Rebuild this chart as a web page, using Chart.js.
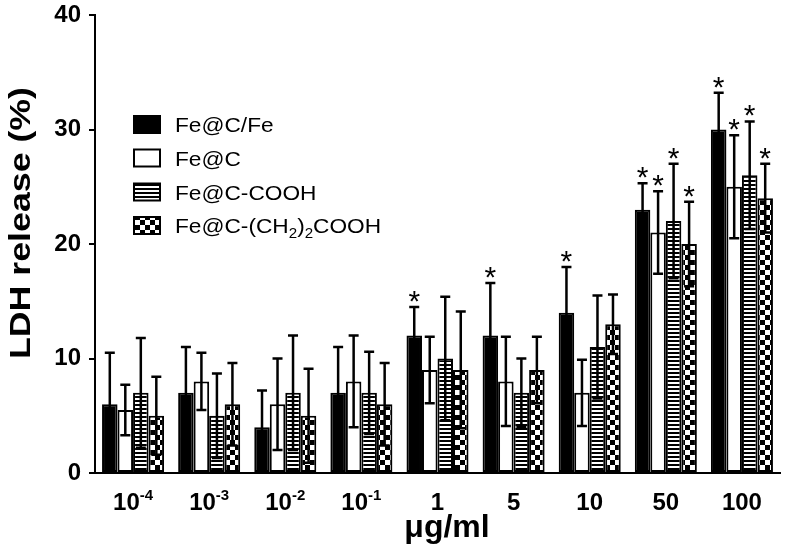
<!DOCTYPE html>
<html><head><meta charset="utf-8">
<script src="https://cdn.jsdelivr.net/npm/chart.js@4.4.0/dist/chart.umd.min.js"></script>
<style>html,body{margin:0;padding:0;background:#fff}#wrap{width:791px;height:559px}</style>
</head><body><div id="wrap"><canvas id="c" width="791" height="559"></canvas></div>
<script>
// ---- data ----
const categories = ['1e-4', '1e-3', '1e-2', '1e-1', '1', '5', '10', '50', '100'];
const tickBase = ['10', '10', '10', '10', '1', '5', '10', '50', '100'];
const tickExp = ['-4', '-3', '-2', '-1', '', '', '', '', ''];
const seriesNames = ['Fe@C/Fe', 'Fe@C', 'Fe@C-COOH', 'Fe@C-(CH2)2COOH'];

const feCFe      = [6, 7, 4, 7, 12, 12, 14, 23, 30];
const feCFeErr   = [4.5, 4, 3.2, 4, 2.5, 4.6, 4, 2.3, 3.2];
const feCFeSig   = [0, 0, 0, 0, 1, 1, 1, 1, 1];

const feC        = [5.5, 8, 6, 8, 9, 8, 7, 21, 25];
const feCErr     = [2.2, 2.5, 4, 4, 2.9, 3.9, 2.9, 3.6, 4.5];
const feCSig     = [0, 0, 0, 0, 0, 0, 0, 1, 1];

const feCCOOH    = [7, 5, 7, 7, 10, 7, 11, 22, 26];
const feCCOOHErr = [4.8, 3.7, 5, 3.6, 5.4, 3, 4.5, 5, 4.7];
const feCCOOHSig = [0, 0, 0, 0, 0, 0, 0, 1, 1];

const feCCH2     = [5, 6, 5, 6, 9, 9, 13, 20, 24];
const feCCH2Err  = [3.4, 3.6, 4.1, 3.6, 5.1, 2.9, 2.6, 3.7, 3];
const feCCH2Sig  = [0, 0, 0, 0, 0, 0, 0, 1, 1];

const yMin = 0, yMax = 40, yStep = 10;
const xTitle = 'μg/ml';
const yTitle = 'LDH release (%)';

// ---- styles ----
const FONT = '"Liberation Sans", Arial, Helvetica, sans-serif';
function makeStripe() {
  const c = document.createElement('canvas'); c.width = 4; c.height = 4;
  const g = c.getContext('2d');
  g.fillStyle = '#fff'; g.fillRect(0, 0, 4, 4);
  g.fillStyle = '#000'; g.fillRect(0, 0, 4, 2);
  return document.getElementById('c').getContext('2d').createPattern(c, 'repeat');
}
function makeChecker() {
  const c = document.createElement('canvas'); c.width = 10; c.height = 10;
  const g = c.getContext('2d');
  g.fillStyle = '#fff'; g.fillRect(0, 0, 10, 10);
  g.fillStyle = '#000'; g.fillRect(0, 0, 5, 5); g.fillRect(5, 5, 5, 5);
  return document.getElementById('c').getContext('2d').createPattern(c, 'repeat');
}
const fills = ['#000', '#fff', makeStripe(), makeChecker()];
const errs = [feCFeErr, feCErr, feCCOOHErr, feCCH2Err];
const sigs = [feCFeSig, feCSig, feCCOOHSig, feCCH2Sig];
const values = [feCFe, feC, feCCOOH, feCCH2];

const overlay = {
  id: 'overlay',
  afterDatasetsDraw(chart) {
    const ctx = chart.ctx, ys = chart.scales.y;
    ctx.save();
    chart.data.datasets.forEach((ds, di) => {
      const meta = chart.getDatasetMeta(di);
      meta.data.forEach((bar, i) => {
        const v = ds.data[i], e = errs[di][i];
        const x = bar.x;
        const yt = ys.getPixelForValue(v + e), yb = ys.getPixelForValue(Math.max(v - e, 0));
        ctx.strokeStyle = '#000'; ctx.lineWidth = 2.5; ctx.lineCap = 'butt';
        ctx.beginPath();
        ctx.moveTo(x, yt); ctx.lineTo(x, yb);
        ctx.moveTo(x - 5, yt); ctx.lineTo(x + 5, yt);
        ctx.moveTo(x - 5, yb); ctx.lineTo(x + 5, yb);
        ctx.stroke();
        if (sigs[di][i]) {
          ctx.fillStyle = '#000'; ctx.font = '30px ' + FONT;
          ctx.textAlign = 'center'; ctx.textBaseline = 'alphabetic';
          ctx.fillText('*', x, yt + 4);
        }
      });
    });
    ctx.restore();
  },
  afterDraw(chart) {
    const ctx = chart.ctx, xs = chart.scales.x;
    ctx.save();
    ctx.fillStyle = '#000';
    // x tick labels with superscripts
    categories.forEach((c, i) => {
      const cx = xs.getPixelForValue(i);
      ctx.font = 'bold 24px ' + FONT;
      const wb = ctx.measureText(tickBase[i]).width;
      ctx.font = 'bold 15px ' + FONT;
      const we = tickExp[i] ? ctx.measureText(tickExp[i]).width : 0;
      const x0 = cx - (wb + we) / 2;
      ctx.textAlign = 'left'; ctx.textBaseline = 'alphabetic';
      ctx.font = 'bold 24px ' + FONT;
      ctx.fillText(tickBase[i], x0, 510);
      if (tickExp[i]) { ctx.font = 'bold 15px ' + FONT; ctx.fillText(tickExp[i], x0 + wb, 500); }
    });
    // x title
    ctx.font = 'bold 32px ' + FONT; ctx.textAlign = 'center';
    ctx.fillText(xTitle, 447, 537);
    // y title (stretched along its direction to match the reference glyph width)
    ctx.save();
    ctx.font = 'bold 30px ' + FONT;
    const tw = ctx.measureText(yTitle).width;
    ctx.translate(30, 223); ctx.rotate(-Math.PI / 2);
    ctx.scale(272 / tw, 1);
    ctx.textAlign = 'center'; ctx.textBaseline = 'alphabetic';
    ctx.fillText(yTitle, 0, 0);
    ctx.restore();
    // legend
    const rows = [124.5, 158, 192, 225.5];
    chart.data.datasets.forEach((ds, di) => {
      const cy = rows[di];
      ctx.fillStyle = fills[di];
      ctx.fillRect(134, cy - 8.5, 26, 17);
      ctx.strokeStyle = '#000'; ctx.lineWidth = 2;
      ctx.strokeRect(134, cy - 8.5, 26, 17);
      ctx.fillStyle = '#000'; ctx.textAlign = 'left'; ctx.textBaseline = 'alphabetic';
      const by = cy + 7.5;
      ctx.save();
      ctx.translate(175, by); ctx.scale(1.08, 1);
      if (di === 3) {
        let x = 0;
        const parts = [['Fe@C-(CH', 0], ['2', 1], [')', 0], ['2', 1], ['COOH', 0]];
        parts.forEach(([t, sub]) => {
          ctx.font = (sub ? '14px ' : '21px ') + FONT;
          ctx.fillText(t, x, sub ? 5 : 0);
          x += ctx.measureText(t).width;
        });
      } else {
        ctx.font = '21px ' + FONT;
        ctx.fillText(seriesNames[di], 0, 0);
      }
      ctx.restore();
    });
    ctx.restore();
  }
};

new Chart(document.getElementById('c'), {
  type: 'bar',
  data: {
    labels: categories,
    datasets: values.map((v, di) => ({
      label: seriesNames[di],
      data: v,
      backgroundColor: fills[di],
      borderColor: '#000',
      borderWidth: 2,
      borderSkipped: false,
      barPercentage: 1,
      categoryPercentage: 0.815
    }))
  },
  options: {
    responsive: false,
    animation: false,
    events: [],
    layout: { padding: { top: 15, right: 11, left: 0, bottom: 0 } },
    plugins: { legend: { display: false }, tooltip: { enabled: false } },
    scales: {
      x: {
        grid: { display: false },
        border: { display: true, color: '#000', width: 2 },
        ticks: { display: false },
        afterFit: s => { s.height = 86; s.paddingLeft = 0; s.paddingRight = 0; }
      },
      y: {
        min: yMin, max: yMax,
        ticks: { stepSize: yStep, color: '#000', padding: 8, font: { family: FONT, size: 24, weight: 'bold' } },
        grid: { display: true, drawOnChartArea: false, drawTicks: true, tickLength: 6, color: '#000', lineWidth: 2 },
        border: { display: true, color: '#000', width: 2 },
        afterFit: s => { s.width = 95; s.paddingTop = 0; s.paddingBottom = 0; }
      }
    }
  },
  plugins: [overlay]
});
</script>
</body></html>
